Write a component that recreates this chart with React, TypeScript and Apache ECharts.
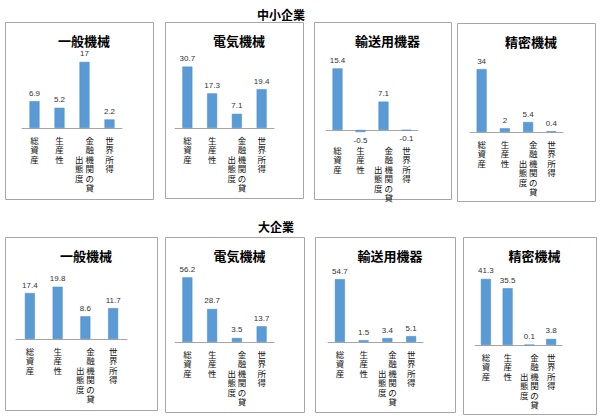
import React, { useEffect, useRef } from "react";
import * as echarts from "echarts";

const categories = ["総資産", "生産性", "金融機関の貸出態度", "世界所得"];
const industries = ["一般機械", "電気機械", "輸送用機器", "精密機械"];
const groupTitles = ["中小企業", "大企業"];
const smeValues = [
  [6.9, 5.2, 17, 2.2],
  [30.7, 17.3, 7.1, 19.4],
  [15.4, -0.5, 7.1, -0.1],
  [34, 2, 5.4, 0.4],
];
const largeValues = [
  [17.4, 19.8, 8.6, 11.7],
  [56.2, 28.7, 3.5, 13.7],
  [54.7, 1.5, 3.4, 5.1],
  [41.3, 35.5, 0.1, 3.8],
];
const smeAxisMax = [18, 35, 18, 40];
const largeAxisMax = [25, 60, 60, 45];
const smeAxisMin = [0, 0, -2, 0];
const largeAxisMin = [0, 0, 0, 0];

// layout: panel boxes [x, y, w, h], axis [x0, x1], zero line y, plot top y
const boxes = [
  [[5, 22, 148, 177], [165, 22, 138, 176], [314, 22, 137, 177], [457, 23, 138, 178]],
  [[5, 237, 152, 173], [165, 237, 139, 175], [315, 237, 140, 175], [463, 237, 133, 177]],
];
const axesX = [
  [[22, 122], [175, 274], [326, 418], [470, 563]],
  [[16, 127], [175, 274], [328, 423], [475, 562]],
];
const zeroY = [
  [128, 128, 130, 132],
  [339, 342, 342, 345],
];
const plotTop = [58, 273];

function verticalLabel(name: string): string {
  const chars = Array.from(name);
  if (chars.length <= 4) return chars.join("\n");
  const right = chars.slice(0, 6);
  const left = chars.slice(6);
  const rows: string[] = [];
  for (let i = 0; i < right.length; i++) {
    const li = i - 2;
    const l = li >= 0 && li < left.length ? left[li] : "\u3000";
    rows.push(l + " " + right[i]);
  }
  return rows.join("\n");
}

export default function App() {
  const ref = useRef<HTMLDivElement>(null);
  useEffect(() => {
    if (!ref.current) return;
    const chart = echarts.init(ref.current, null, { renderer: "svg" });
    const grids: any[] = [];
    const xAxes: any[] = [];
    const yAxes: any[] = [];
    const series: any[] = [];
    const titles: any[] = [];
    const graphics: any[] = [];
    const rows = [smeValues, largeValues];
    const maxes = [smeAxisMax, largeAxisMax];
    const mins = [smeAxisMin, largeAxisMin];
    let idx = 0;
    rows.forEach((rowVals, r) => {
      rowVals.forEach((vals, p) => {
        const [bx, by, bw, bh] = boxes[r][p];
        graphics.push({
          type: "rect",
          shape: { x: bx + 0.5, y: by + 0.5, width: bw, height: bh },
          style: { fill: "#fff", stroke: "#a6a6a6", lineWidth: 1 },
          z: -10,
        });
        titles.push({
          text: industries[p],
          left: bx + bw / 2,
          top: by + 7,
          textAlign: "center",
          textStyle: { fontSize: 13, fontWeight: "bold", color: "#000", fontFamily: "Noto Sans CJK JP" },
        });
        const M = maxes[r][p];
        const m = mins[r][p];
        const z = zeroY[r][p];
        const t = plotTop[r];
        const height = ((z - t) * (M - m)) / M;
        const [x0, x1] = axesX[r][p];
        grids.push({ left: x0, top: t, width: x1 - x0, height, containLabel: false });
        xAxes.push({
          type: "category",
          gridIndex: idx,
          data: categories,
          axisLine: { lineStyle: { color: "#a6a6a6", width: 1 } },
          axisTick: { show: false },
          axisLabel: {
            interval: 0,
            margin: 7,
            fontSize: 8.5,
            lineHeight: 9.5,
            color: "#111",
            fontFamily: "Noto Sans CJK JP",
            verticalAlign: "top",
            formatter: (v: string) => verticalLabel(v),
          },
        });
        yAxes.push({
          type: "value",
          gridIndex: idx,
          min: m,
          max: M,
          show: false,
          splitLine: { show: false },
        });
        series.push({
          type: "bar",
          xAxisIndex: idx,
          yAxisIndex: idx,
          barWidth: 10,
          itemStyle: { color: "#5b9bd5", borderColor: "#4a8ac4", borderWidth: 0.5 },
          data: vals.map((v) => ({
            value: v,
            label: { position: v < 0 ? "bottom" : "top" },
          })),
          label: {
            show: true,
            fontSize: 8,
            color: "#333",
            distance: 4,
            fontFamily: "Liberation Sans",
          },
        });
        idx++;
      });
    });
    titles.push({
      text: groupTitles[0],
      left: 276,
      top: 3,
      textAlign: "center",
      textStyle: { fontSize: 12, fontWeight: "bold", color: "#000", fontFamily: "Noto Sans CJK JP" },
    });
    titles.push({
      text: groupTitles[1],
      left: 271,
      top: 215,
      textAlign: "center",
      textStyle: { fontSize: 12, fontWeight: "bold", color: "#000", fontFamily: "Noto Sans CJK JP" },
    });
    chart.setOption({
      animation: false,
      backgroundColor: "#fff",
      title: titles,
      grid: grids,
      xAxis: xAxes,
      yAxis: yAxes,
      series,
      graphic: graphics,
    });
    return () => chart.dispose();
  }, []);
  return (
    <div
      ref={ref}
      style={{ position: "fixed", left: 0, top: 0, width: 600, height: 420 }}
    />
  );
}
